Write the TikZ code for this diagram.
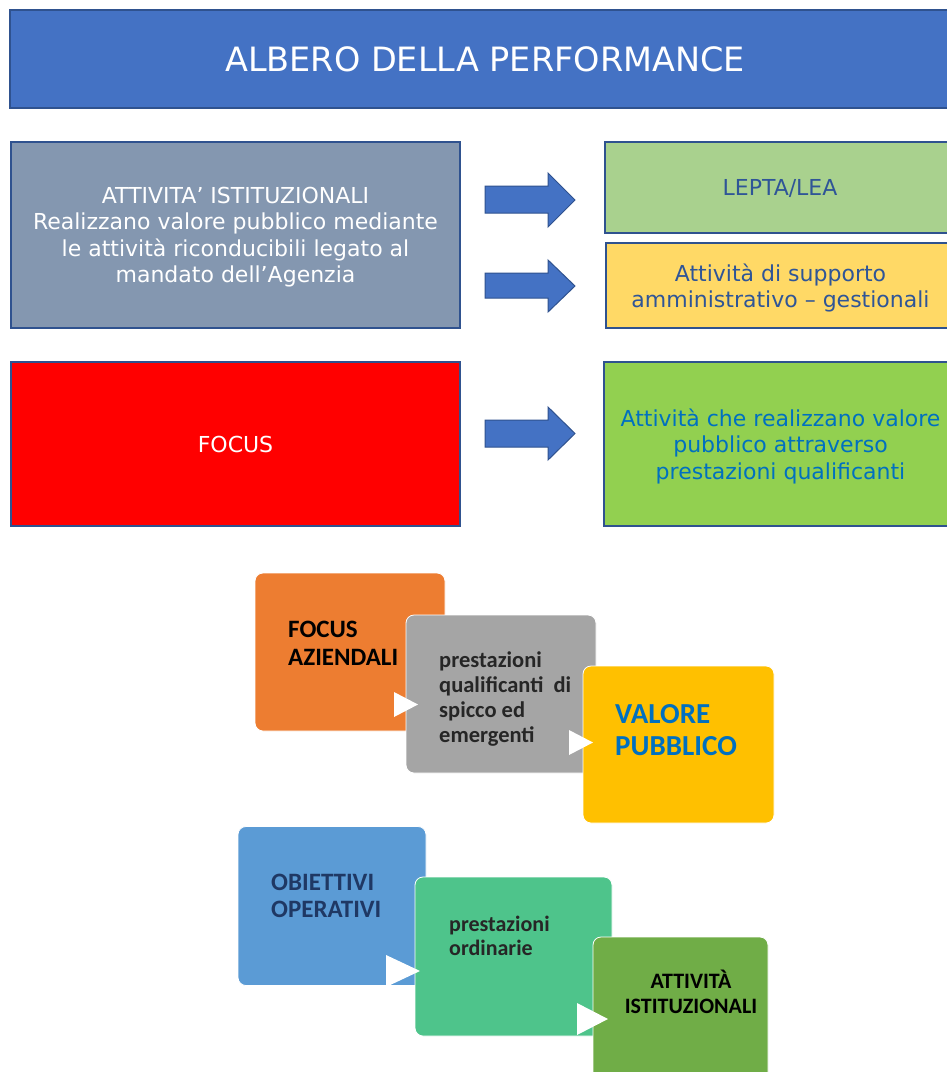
\documentclass[tikz,border=0pt]{standalone}
\usepackage{fontspec}
\setmainfont{DejaVu Sans}
\newfontfamily\carlito{Carlito}
\definecolor{titleblue}{HTML}{4472C4}
\definecolor{edgeblue}{HTML}{2F528F}
\definecolor{slate}{HTML}{8497B0}
\definecolor{lgreen}{HTML}{A9D18E}
\definecolor{lyellow}{HTML}{FFD966}
\definecolor{dblue}{HTML}{2F5597}
\definecolor{vgreen}{HTML}{92D050}
\definecolor{tblue}{HTML}{0070C0}
\definecolor{sorange}{HTML}{ED7D31}
\definecolor{sgray}{HTML}{A5A5A5}
\definecolor{sgold}{HTML}{FFC000}
\definecolor{sblue}{HTML}{5B9BD5}
\definecolor{sgreen}{HTML}{4EC48B}
\definecolor{solive}{HTML}{70AD47}
\definecolor{navy}{HTML}{1F3864}
\definecolor{dgray}{HTML}{262626}
\tikzset{
  flatbox/.style={draw=edgeblue, line width=1.2pt, inner sep=0pt, align=center, text depth=0pt},
  stepbox/.style={draw=white, line width=0.8pt, rounded corners=8pt, inner sep=0pt},
  steptext/.style={anchor=base west, inner sep=0pt, align=left},
  barrow/.style={fill=titleblue, draw=edgeblue, line width=1pt}
}
\begin{document}
\begin{tikzpicture}[x=1pt,y=-1pt]
\clip (0,0) rectangle (947,1072);
\fill[white] (0,0) rectangle (947,1072);
% title
\node[flatbox, fill=titleblue, minimum width=950, minimum height=98, text=white,
  font=\fontsize{33.5}{40}\selectfont] (title) at (485,59) {ALBERO DELLA PERFORMANCE};
% top row
\node[flatbox, fill=slate, minimum width=449, minimum height=186, text=white,
  font=\fontsize{22}{26.5}\selectfont] (ist) at (235.5,235)
  {ATTIVITA’ ISTITUZIONALI\\Realizzano valore pubblico mediante\\le attività riconducibili legato al\\mandato dell’Agenzia};
\node[flatbox, fill=lgreen, minimum width=355, minimum height=91, text=dblue,
  font=\fontsize{22}{26.5}\selectfont] (lepta) at (782.5,187.5) {\hspace*{-5pt}LEPTA/LEA};
\node[flatbox, fill=lyellow, minimum width=354, minimum height=85, text=dblue,
  font=\fontsize{22}{26.5}\selectfont] (supp) at (783,285.5) {\hspace*{-5pt}Attività di supporto\\\hspace*{-5pt}amministrativo – gestionali};
\node[flatbox, fill=red, minimum width=449, minimum height=164, text=white,
  font=\fontsize{22}{26.5}\selectfont] (focus) at (235.5,444) {FOCUS};
\node[flatbox, fill=vgreen, minimum width=356, minimum height=164, text=tblue,
  font=\fontsize{22}{26.5}\selectfont] (qual) at (782,444)
  {\hspace*{-3pt}Attività che realizzano valore\\\hspace*{-3pt}pubblico attraverso\\\hspace*{-3pt}prestazioni qualificanti};
% block arrows
\foreach \n/\s/\t/\h/\k/\m in {a1/186/213/173/227/200, a2/273/298/260/312/286, a3/420/447/407/460/433.5}{
  \coordinate (\n) at (575,\m);
  \draw[barrow] (485,\s) -- (548,\s) -- (548,\h) -- (\n) -- (548,\k) -- (548,\t) -- (485,\t) -- cycle;
}
% bottom: upper process
\node[stepbox, fill=sorange, minimum width=190, minimum height=158] (o1) at (350,652) {};
\node[stepbox, fill=sgray, minimum width=190, minimum height=158] (o2) at (501,694) {};
\fill[white] (394,692) -- (418,704.5) -- (394,717) -- cycle;
\node[stepbox, fill=sgold, minimum width=191, minimum height=157] (o3) at (678.5,744.5) {};
\fill[white] (569,730) -- (593,742.5) -- (569,755) -- cycle;
\node[steptext, font=\carlito\bfseries\fontsize{25}{27.5}\selectfont, text=black] (l1) at (288,665) {FOCUS\\AZIENDALI};
\node[steptext, font=\carlito\bfseries\fontsize{22.5}{25}\selectfont, text=dgray] (l2) at (439,742) {prestazioni\\qualificanti\ \ di\\spicco ed\\emergenti};
\node[steptext, font=\carlito\bfseries\fontsize{29}{31.5}\selectfont, text=tblue] (l3) at (615,755) {VALORE\\PUBBLICO};
% bottom: lower process
\node[stepbox, fill=sblue, minimum width=188, minimum height=159] (p1) at (332,906) {};
\node[stepbox, fill=sgreen, minimum width=197, minimum height=159] (p2) at (513.5,956.5) {};
\fill[white] (386,955) -- (420,971) -- (386,987) -- cycle;
\node[stepbox, fill=solive, minimum width=175, minimum height=170] (p3) at (680.5,1022) {};
\fill[white] (577,1003) -- (608,1019) -- (577,1035) -- cycle;
\node[steptext, font=\carlito\bfseries\fontsize{25}{26.5}\selectfont, text=navy] (m1) at (271,917) {OBIETTIVI\\OPERATIVI};
\node[steptext, font=\carlito\bfseries\fontsize{22}{24}\selectfont, text=dgray] (m2) at (449,955) {prestazioni\\ordinarie};
\node[anchor=base, inner sep=0pt, align=center, font=\carlito\bfseries\fontsize{22}{25}\selectfont, text=black] (m3) at (691,1013) {ATTIVITÀ\\ISTITUZIONALI};
\end{tikzpicture}
\end{document}
